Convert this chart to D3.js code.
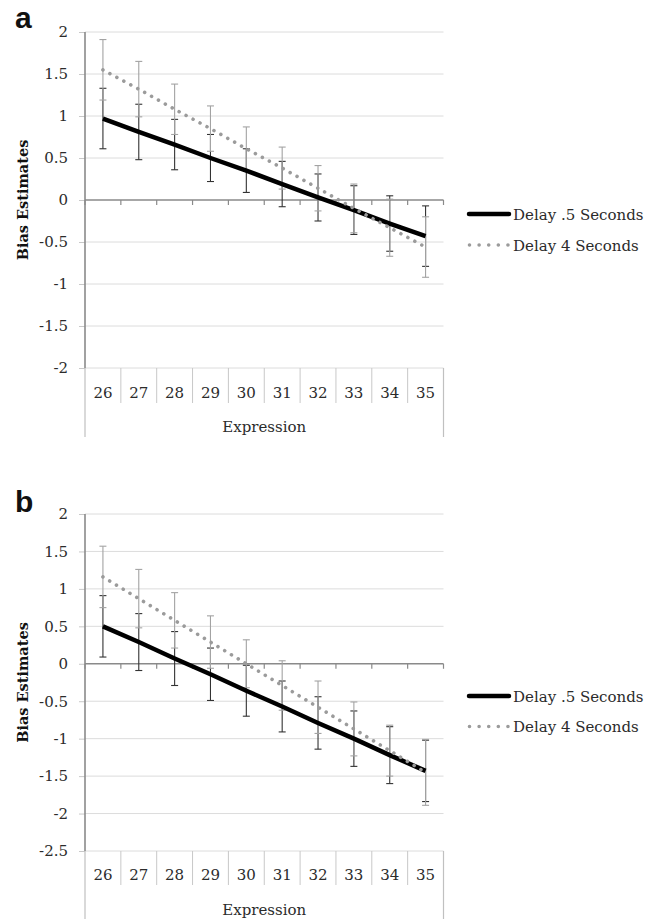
<!DOCTYPE html>
<html>
<head>
<meta charset="utf-8">
<script src="https://cdn.jsdelivr.net/npm/d3@7"></script>
<style>
  body { margin: 0; background: #fff; }
  text { font-family: "DejaVu Serif", serif; fill: #2b2b2b; }
</style>
</head>
<body>
<svg id="fig" width="659" height="919"></svg>
<script>
// categories on the x axis
const expressions = [26, 27, 28, 29, 30, 31, 32, 33, 34, 35];
const seriesNames = ['Delay .5 Seconds', 'Delay 4 Seconds'];

// panel a
const ticksA = [-2, -1.5, -1, -0.5, 0, 0.5, 1, 1.5, 2];
const shortA = [0.97, 0.81, 0.66, 0.50, 0.35, 0.19, 0.03, -0.12, -0.28, -0.43];
const shortErrA = [0.36, 0.33, 0.30, 0.28, 0.26, 0.27, 0.28, 0.29, 0.33, 0.36];
const longA = [1.55, 1.32, 1.08, 0.85, 0.61, 0.38, 0.14, -0.10, -0.33, -0.56];
const longErrA = [0.36, 0.33, 0.30, 0.27, 0.26, 0.25, 0.27, 0.29, 0.34, 0.36];

// panel b
const ticksB = [-2.5, -2, -1.5, -1, -0.5, 0, 0.5, 1, 1.5, 2];
const shortB = [0.50, 0.29, 0.07, -0.14, -0.36, -0.57, -0.79, -1.00, -1.22, -1.43];
const shortErrB = [0.41, 0.38, 0.36, 0.35, 0.34, 0.34, 0.35, 0.37, 0.38, 0.41];
const longB = [1.16, 0.87, 0.58, 0.29, 0.00, -0.29, -0.58, -0.87, -1.16, -1.45];
const longErrB = [0.41, 0.39, 0.37, 0.35, 0.32, 0.33, 0.35, 0.36, 0.34, 0.44];

const svg = d3.select('#fig');
const left = 85, right = 443.5;

function drawPanel(p) {
  const g = svg.append('g');
  const x = d3.scaleBand().domain(expressions).range([left, right]);
  const cx = d => x(d) + x.bandwidth() / 2;
  const y = d3.scaleLinear().domain(d3.extent(p.ticks)).range([p.bottom, p.top]);

  // panel letter
  g.append('text')
    .attr('x', 15).attr('y', p.letterY)
    .style('font-family', '"Liberation Sans", Arial, sans-serif')
    .style('font-weight', 'bold').style('font-size', '30px').style('fill', '#111')
    .text(p.letter);

  // gridlines
  g.append('g').selectAll('line')
    .data(p.ticks.filter(t => t !== 0))
    .join('line')
    .attr('x1', left).attr('x2', right)
    .attr('y1', d => y(d)).attr('y2', d => y(d))
    .attr('stroke', '#dcdcdc').attr('stroke-width', 1);

  // y axis
  const yAxis = g.append('g')
    .attr('transform', `translate(${left},0)`)
    .call(d3.axisLeft(y).tickValues(p.ticks).tickSize(6).tickPadding(11).tickFormat(d => String(d)));
  yAxis.select('.domain').remove();
  yAxis.selectAll('.tick line').attr('stroke', '#c8c8c8');
  yAxis.selectAll('.tick text')
    .style('font-size', '15px').style('font-family', '"DejaVu Serif", serif').attr('fill', '#2b2b2b');

  g.append('line')
    .attr('x1', left).attr('x2', left).attr('y1', p.top).attr('y2', p.bottom)
    .attr('stroke', '#8a8a8a').attr('stroke-width', 1.6);

  // zero line with boundary ticks
  g.append('line')
    .attr('x1', left).attr('x2', right).attr('y1', y(0)).attr('y2', y(0))
    .attr('stroke', '#8a8a8a').attr('stroke-width', 1.5);
  const bounds = expressions.map(d => x(d)).concat([right]);
  g.append('g').selectAll('line')
    .data(bounds)
    .join('line')
    .attr('x1', d => d).attr('x2', d => d)
    .attr('y1', y(0)).attr('y2', y(0) + 5)
    .attr('stroke', '#8a8a8a').attr('stroke-width', 1.2);

  // category table below the plot
  g.append('g').selectAll('line')
    .data(expressions.slice(1).map(d => x(d)))
    .join('line')
    .attr('x1', d => d).attr('x2', d => d)
    .attr('y1', p.bottom).attr('y2', p.bottom + p.sepLen)
    .attr('stroke', '#c8c8c8').attr('stroke-width', 1);
  g.append('g').selectAll('line')
    .data([left, right])
    .join('line')
    .attr('x1', d => d).attr('x2', d => d)
    .attr('y1', p.bottom).attr('y2', p.bottom + 69)
    .attr('stroke', '#c0c0c0').attr('stroke-width', 1.2);
  g.append('g').selectAll('text')
    .data(expressions)
    .join('text')
    .attr('x', cx).attr('y', p.bottom + p.sepLen - 5)
    .attr('text-anchor', 'middle').style('font-size', '15px')
    .text(d => d);
  g.append('text')
    .attr('x', (left + right) / 2).attr('y', p.bottom + 64)
    .attr('text-anchor', 'middle').style('font-size', '15px')
    .text('Expression');

  // y label
  g.append('text')
    .attr('transform', `translate(28,${(p.top + p.bottom) / 2}) rotate(-90)`)
    .attr('text-anchor', 'middle')
    .style('font-size', '14.5px').style('font-weight', 'bold').style('fill', '#111')
    .text('Bias Estimates');

  // error bars
  const series = [
    {vals: p.shortVals, errs: p.shortErrs, color: '#333333'},
    {vals: p.longVals, errs: p.longErrs, color: '#a3a3a3'}
  ];
  series.forEach(s => {
    const rows = expressions.map((e, i) => ({e, v: s.vals[i], er: s.errs[i]}));
    const eb = g.append('g').attr('stroke', s.color).attr('stroke-width', 1.1);
    eb.selectAll('.stem').data(rows).join('line').attr('class', 'stem')
      .attr('x1', d => cx(d.e)).attr('x2', d => cx(d.e))
      .attr('y1', d => y(d.v + d.er)).attr('y2', d => y(d.v - d.er));
    eb.selectAll('.capT').data(rows).join('line').attr('class', 'capT')
      .attr('x1', d => cx(d.e) - 3.5).attr('x2', d => cx(d.e) + 3.5)
      .attr('y1', d => y(d.v + d.er)).attr('y2', d => y(d.v + d.er));
    eb.selectAll('.capB').data(rows).join('line').attr('class', 'capB')
      .attr('x1', d => cx(d.e) - 3.5).attr('x2', d => cx(d.e) + 3.5)
      .attr('y1', d => y(d.v - d.er)).attr('y2', d => y(d.v - d.er));
  });

  const line = d3.line().x((d, i) => cx(expressions[i])).y(d => y(d));
  g.append('path')
    .attr('d', line(p.shortVals))
    .attr('fill', 'none').attr('stroke', '#000').attr('stroke-width', 4.5);
  g.append('path')
    .attr('d', line(p.longVals))
    .attr('fill', 'none').attr('stroke', '#9b9b9b').attr('stroke-width', 3.6)
    .attr('stroke-linecap', 'round').attr('stroke-dasharray', '0.01 7.9');

  // legend
  const lg = g.append('g');
  lg.append('line')
    .attr('x1', 469).attr('x2', 509).attr('y1', p.legendY).attr('y2', p.legendY)
    .attr('stroke', '#000').attr('stroke-width', 4.5).attr('stroke-linecap', 'round');
  lg.append('line')
    .attr('x1', 469.5).attr('x2', 509).attr('y1', p.legendY + p.legendGap).attr('y2', p.legendY + p.legendGap)
    .attr('stroke', '#9b9b9b').attr('stroke-width', 3.6)
    .attr('stroke-linecap', 'round').attr('stroke-dasharray', '0.01 9.6');
  lg.selectAll('text')
    .data(seriesNames)
    .join('text')
    .attr('x', 513)
    .attr('y', (d, i) => p.legendY + i * p.legendGap + 5.5)
    .style('font-size', '15px')
    .text(d => d);
}

drawPanel({
  letter: 'a', letterY: 28, top: 32, bottom: 368, sepLen: 35, ticks: ticksA,
  shortVals: shortA, shortErrs: shortErrA, longVals: longA, longErrs: longErrA,
  legendY: 214, legendGap: 31
});
drawPanel({
  letter: 'b', letterY: 512, top: 514, bottom: 851, sepLen: 34, ticks: ticksB,
  shortVals: shortB, shortErrs: shortErrB, longVals: longB, longErrs: longErrB,
  legendY: 696, legendGap: 30.5
});
</script>
</body>
</html>
